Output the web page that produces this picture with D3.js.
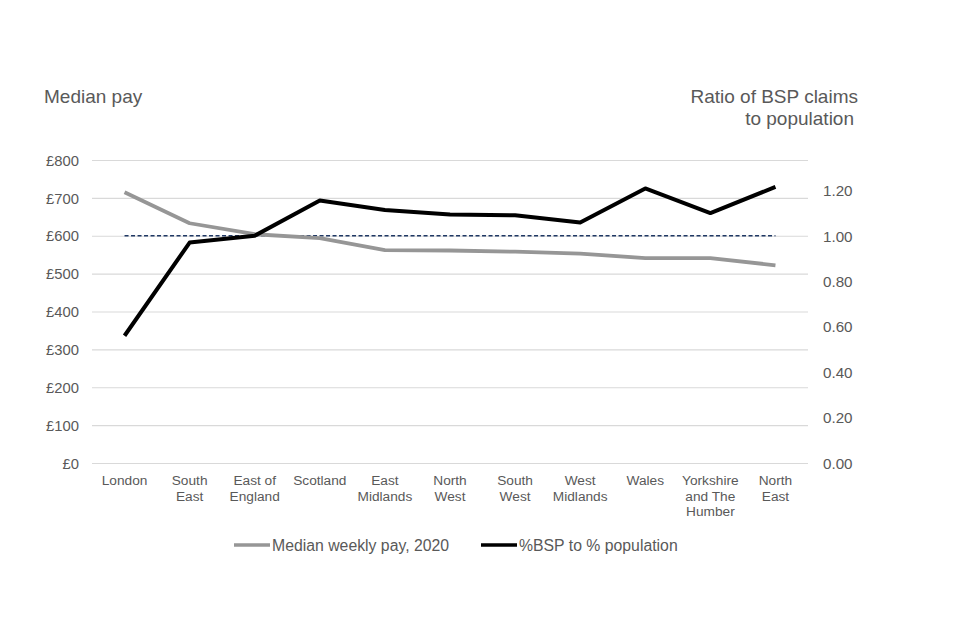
<!DOCTYPE html>
<html>
<head>
<meta charset="utf-8">
<script src="https://cdn.jsdelivr.net/npm/d3@7"></script>
<style>
  body { margin: 0; background: #fff; }
  text { font-family: "Liberation Sans", Arial, sans-serif; fill: #595959; }
</style>
</head>
<body>
<svg width="960" height="640"></svg>
<script>
const regions = [["London"], ["South", "East"], ["East of", "England"], ["Scotland"],
  ["East", "Midlands"], ["North", "West"], ["South", "West"], ["West", "Midlands"],
  ["Wales"], ["Yorkshire", "and The", "Humber"], ["North", "East"]];
const medianPay = [715, 633, 604, 594, 562, 561, 558, 553, 541, 541, 522];
const bspRatio = [0.56, 0.97, 1.00, 1.155, 1.113, 1.093, 1.09, 1.058, 1.208, 1.10, 1.215];
const payTicks = [0, 100, 200, 300, 400, 500, 600, 700, 800];
const ratioTicks = [0, 0.2, 0.4, 0.6, 0.8, 1.0, 1.2];
const parityLine = 1.0;

const plot = {left: 92, right: 808, top: 160, bottom: 463};

var svg = d3.select("svg");

var keys = regions.map(function(d, i) { return i; });
var x = d3.scaleBand().domain(keys).range([plot.left, plot.right]);
var yPay = d3.scaleLinear().domain([0, 800]).range([plot.bottom, plot.top]);
var yRatio = d3.scaleLinear().domain([0, 4 / 3]).range([plot.bottom, plot.top]);
function cx(i) { return x(i) + x.bandwidth() / 2; }

// gridlines + left labels
var leftAxis = d3.axisLeft(yPay).tickValues(payTicks)
  .tickSize(-(plot.right - plot.left))
  .tickFormat(function(d) { return "£" + d; });
svg.append("g")
   .attr("transform", "translate(" + plot.left + ",0)")
   .call(leftAxis)
   .call(function(g) {
     g.select(".domain").remove();
     g.selectAll(".tick line").attr("stroke", "#d9d9d9").attr("stroke-width", 1.2);
     g.selectAll(".tick text").attr("x", -13).attr("dy", "0.35em")
      .style("font-size", "14.8px").attr("fill", "#595959");
   });

// right labels
var rightAxis = d3.axisRight(yRatio).tickValues(ratioTicks).tickSize(0)
  .tickFormat(d3.format(".2f"));
svg.append("g")
   .attr("transform", "translate(" + plot.right + ",0)")
   .call(rightAxis)
   .call(function(g) {
     g.select(".domain").remove();
     g.selectAll(".tick text").attr("x", 15).attr("dy", "0.35em")
      .style("font-size", "15.2px").attr("fill", "#595959");
   });

// category labels
var cat = svg.append("g").selectAll("text").data(regions).enter().append("text")
   .attr("text-anchor", "middle")
   .attr("x", function(d, i) { return cx(i); })
   .attr("y", 485)
   .style("font-size", "13.7px");
cat.selectAll("tspan").data(function(d) { return d; }).enter().append("tspan")
   .attr("x", function() { return d3.select(this.parentNode).attr("x"); })
   .attr("dy", function(d, j) { return j === 0 ? 0 : 15.7; })
   .text(function(d) { return d; });

// parity reference line
svg.append("line")
   .attr("x1", cx(0)).attr("x2", cx(regions.length - 1))
   .attr("y1", yRatio(parityLine)).attr("y2", yRatio(parityLine))
   .attr("stroke", "#1f3864").attr("stroke-width", 1.4)
   .attr("stroke-dasharray", "4,2.5");

var payLine = d3.line().x(function(d, i) { return cx(i); }).y(function(d) { return yPay(d); });
var ratioLine = d3.line().x(function(d, i) { return cx(i); }).y(function(d) { return yRatio(d); });

svg.append("path").datum(medianPay)
   .attr("d", payLine).attr("fill", "none")
   .attr("stroke", "#969696").attr("stroke-width", 3.8).attr("stroke-linejoin", "round");
svg.append("path").datum(bspRatio)
   .attr("d", ratioLine).attr("fill", "none")
   .attr("stroke", "#000").attr("stroke-width", 4).attr("stroke-linejoin", "round");

// axis titles
svg.append("text").attr("x", 44).attr("y", 103).style("font-size", "19px").text("Median pay");
svg.append("text").attr("x", 858).attr("y", 103).attr("text-anchor", "end")
   .style("font-size", "19px").text("Ratio of BSP claims");
svg.append("text").attr("x", 854).attr("y", 125).attr("text-anchor", "end")
   .style("font-size", "19px").text("to population");

// legend
var legend = [
  {label: "Median weekly pay, 2020", color: "#969696", x: 234},
  {label: "%BSP to % population", color: "#000", x: 481}
];
var lg = svg.append("g").selectAll("g").data(legend).enter().append("g")
   .attr("transform", function(d) { return "translate(" + d.x + ",545)"; });
lg.append("line").attr("x1", 0).attr("x2", 36).attr("y1", 0).attr("y2", 0)
  .attr("stroke", function(d) { return d.color; }).attr("stroke-width", 3.4);
lg.append("text").attr("x", 38).attr("dy", "0.35em").style("font-size", "15.8px")
  .text(function(d) { return d.label; });
</script>
</body>
</html>
